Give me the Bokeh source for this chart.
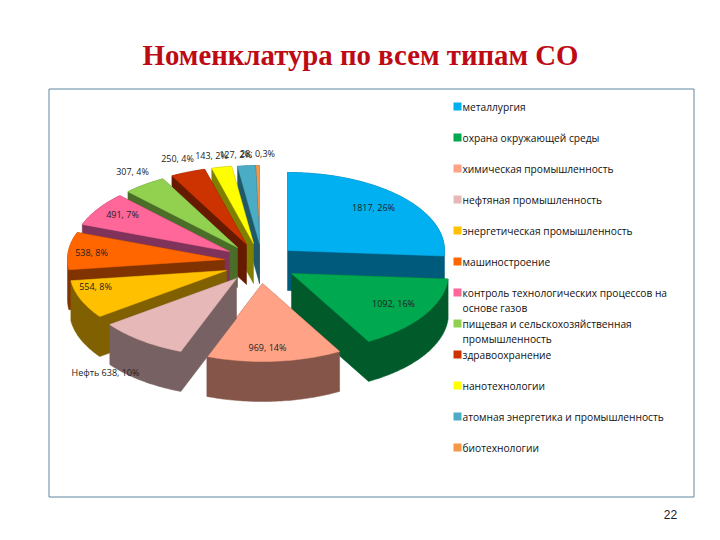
import numpy as np
from bokeh.plotting import figure
from bokeh.models import Range1d
from bokeh.core.properties import value
from bokeh.embed import file_html
from bokeh.resources import INLINE

title_text = "Номенклатура по всем типам СО"
categories = ["металлургия", "охрана окружающей среды", "химическая промышленность",
              "нефтяная промышленность", "энергетическая промышленность", "машиностроение",
              "контроль технологических процессов на\nоснове газов",
              "пищевая и сельскохозяйственная\nпромышленность", "здравоохранение",
              "нанотехнологии", "атомная энергетика и промышленность", "биотехнологии"]
values = [1817, 1092, 969, 638, 554, 538, 491, 307, 250, 143, 127, 28]
labels = ["1817, 26%", "1092, 16%", "969, 14%", "Нефть 638, 10%", "554, 8%", "538, 8%",
          "491, 7%", "307, 4%", "250, 4%", "143, 2%", "127, 2%", "28; 0,3%"]
top_colors = ["#00B0F0", "#00A84F", "#FFA286", "#E6B8B7", "#FFC000", "#FF6600",
              "#FF6699", "#92D050", "#CC3300", "#FFFF00", "#4BACC6", "#F79646"]
side_colors = ["#005A7C", "#005A2A", "#855549", "#786162", "#806000", "#803300",
               "#80335A", "#4A6E28", "#661A00", "#808000", "#215968", "#7C4B23"]

# layout: exploded wedge apexes and label anchors (page pixels)
apex_x = [287, 291, 262, 236, 226, 224, 229, 237, 246, 253, 259, 259]
apex_y = [250, 273, 283, 278, 270, 259, 251, 247, 244, 243, 243, 243]
label_x = [373, 393, 267, 105, 95, 91, 122, 132, 177, 211, 235, 257]
label_y = [207, 303, 347, 372, 286, 252, 214, 171, 158, 155, 154, 153]
draw_order = [11, 10, 9, 8, 7, 6, 5, 4, 0, 1, 2, 3]
RX, RY, DEPTH = 157, 78, 40


def hull(points):
    pts = sorted(set(points))
    def half(seq):
        out = []
        for q in seq:
            while len(out) >= 2 and (out[-1][0] - out[-2][0]) * (q[1] - out[-2][1]) - (out[-1][1] - out[-2][1]) * (q[0] - out[-2][0]) <= 0:
                out.pop()
            out.append(q)
        return out[:-1]
    return half(pts) + half(pts[::-1])


p = figure(width=704, height=524, output_backend="svg", toolbar_location=None,
           x_range=Range1d(0, 704), y_range=Range1d(524, 0), min_border=0,
           background_fill_color="white", border_fill_color="white", outline_line_color=None)
p.axis.visible = False
p.grid.visible = False

# frame
p.quad(left=48.5, right=693.5, top=88.5, bottom=496.5, fill_color="white",
       line_color="#5F87A0", line_width=1)

edges = np.concatenate([[0], np.cumsum(values)]) / sum(values) * 2 * np.pi
for i in draw_order:
    th = np.linspace(edges[i], edges[i + 1], max(3, int(np.degrees(edges[i + 1] - edges[i])) + 2))
    xs = np.concatenate([[apex_x[i]], apex_x[i] + RX * np.sin(th)])
    ys = np.concatenate([[apex_y[i]], apex_y[i] - RY * np.cos(th)])
    pts = [(float(a), float(b)) for a, b in zip(xs, ys)] + [(float(a), float(b) + DEPTH) for a, b in zip(xs, ys)]
    h = hull(pts)
    p.patch([q[0] for q in h], [q[1] for q in h], fill_color=side_colors[i], line_color=side_colors[i], line_width=0.5)
    p.patch(xs, ys, fill_color=top_colors[i], line_color=top_colors[i], line_width=0.5)

p.text(label_x, label_y, text=labels, text_font=value("Open Sans"), text_font_size="9px",
       text_color="#222222", text_align="center", text_baseline="middle")

# legend
legend_y = 106
for name, col in zip(categories, top_colors):
    lines = name.split("\n")
    p.rect([457], [legend_y], width=8, height=8, fill_color=col, line_color=None)
    for ln in lines:
        p.text([462], [legend_y], text=[ln], text_font=value("Open Sans"), text_font_size="10.2px",
               text_color="#111111", text_align="left", text_baseline="middle")
        legend_y += 15.5
    legend_y += 31 - 15.5 * len(lines) if len(lines) == 1 else 0

p.text([360], [54], text=[title_text], text_font=value("Liberation Serif"), text_font_style="bold",
       text_font_size="28.8px", text_color="#BE0A14", text_align="center", text_baseline="middle")
p.text([670], [514], text=["22"], text_font=value("Liberation Sans"), text_font_size="12px",
       text_color="#222222", text_align="center", text_baseline="middle")

open("out.html", "w").write(file_html(p, INLINE))
